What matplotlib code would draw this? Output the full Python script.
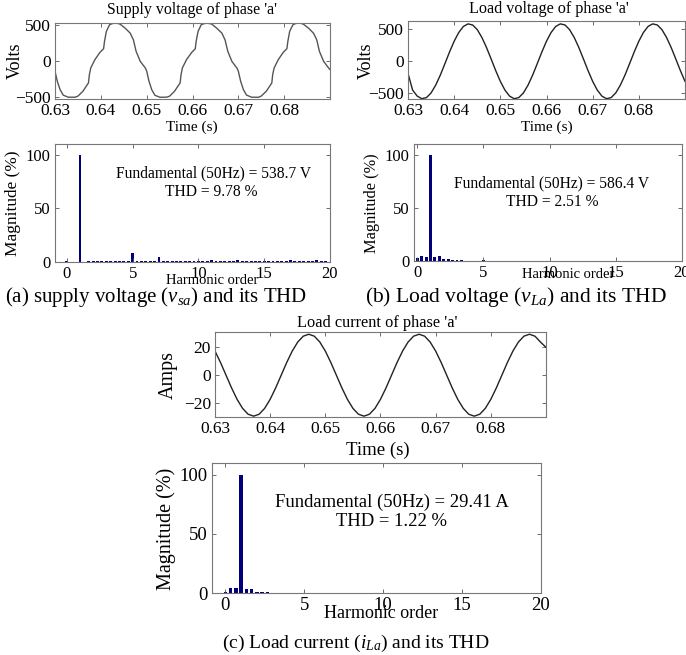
import numpy as np
import matplotlib
matplotlib.use('Agg')
import matplotlib.pyplot as plt

plt.rcParams['font.family'] = ['Liberation Serif', 'DejaVu Serif']
plt.rcParams['mathtext.fontset'] = 'custom'
plt.rcParams['mathtext.rm'] = 'Liberation Serif'
plt.rcParams['mathtext.it'] = 'Liberation Serif:italic'

# supply voltage of phase 'a'
t_sup = [0.6300, 0.6305, 0.6311, 0.6318, 0.6329, 0.6344, 0.6350, 0.6361, 0.6373, 0.6375, 0.6378, 0.6387, 0.6398,
         0.6406, 0.6408, 0.6412, 0.6419, 0.6425, 0.6431, 0.6437, 0.6442, 0.6453, 0.6464, 0.6471, 0.6477, 0.6486, 0.6497,
         0.6500, 0.6505, 0.6511, 0.6518, 0.6529, 0.6544, 0.6550, 0.6561, 0.6573, 0.6575, 0.6578, 0.6587, 0.6598,
         0.6606, 0.6608, 0.6612, 0.6619, 0.6625, 0.6631, 0.6637, 0.6642, 0.6653, 0.6664, 0.6671, 0.6677, 0.6686, 0.6697,
         0.6700, 0.6705, 0.6711, 0.6718, 0.6729, 0.6744, 0.6750, 0.6761, 0.6773, 0.6775, 0.6778, 0.6787, 0.6798,
         0.6806, 0.6808, 0.6812, 0.6819, 0.6825, 0.6831, 0.6837, 0.6842, 0.6853, 0.6864, 0.6871, 0.6877, 0.6886, 0.6897,
         0.6900]
v_sup = [-143, -282, -398, -477, -505, -505, -490, -421, -306, -190, -97, 18, 120,
         171, 273, 412, 505, 522, 528, 524, 514, 458, 389, 296, 134, -5, -97,
         -140, -280, -400, -478, -506, -504, -491, -420, -305, -192, -96, 20, 118,
         170, 275, 410, 506, 521, 527, 523, 515, 457, 390, 295, 135, -6, -99,
         -142, -281, -399, -476, -505, -506, -489, -422, -307, -189, -98, 17, 121,
         172, 272, 413, 504, 523, 528, 525, 513, 459, 388, 297, 133, -4, -98,
         -120]

# load voltage of phase 'a', 1 ms steps
t_load = [0.630 + 0.001 * i for i in range(61)]
v_load = [-190, -451, -545, -585, -568, -495, -373, -216, -37, 146,
          314, 451, 545, 585, 568, 495, 373, 216, 37, -146,
          -314, -451, -545, -585, -568, -495, -373, -216, -37, 146,
          314, 451, 545, 585, 568, 495, 373, 216, 37, -146,
          -314, -451, -545, -585, -568, -495, -373, -216, -37, 146,
          314, 451, 545, 585, 568, 495, 373, 216, 37, -146,
          -314]

# load current of phase 'a', 1 ms steps
t_cur = [0.630 + 0.001 * i for i in range(61)]
i_cur = [17.3, 9.1, 0.0, -9.1, -17.3, -23.8, -28.0, -29.4, -28.0, -23.8,
         -17.3, -9.1, 0.0, 9.1, 17.3, 23.8, 28.0, 29.4, 28.0, 23.8,
         17.3, 9.1, 0.0, -9.1, -17.3, -23.8, -28.0, -29.4, -28.0, -23.8,
         -17.3, -9.1, 0.0, 9.1, 17.3, 23.8, 28.0, 29.4, 28.0, 23.8,
         17.3, 9.1, 0.0, -9.1, -17.3, -23.8, -28.0, -29.4, -28.0, -23.8,
         -17.3, -9.1, 0.0, 9.1, 17.3, 23.8, 28.0, 29.4, 28.0, 23.8,
         20.0]

# harmonic spectra (1/3 harmonic resolution)
orders = [k / 3 for k in range(60)]
mag_sup = [0.6, 0, 0, 100, 0, 0.7, 0.7, 0.7, 0.7, 0.7, 0.7, 0.7, 0.7, 0.7, 0.7, 8.4, 0.7, 0.7, 0.7, 0.7,
           0.7, 4.7, 0.7, 0.7, 0.7, 0.7, 0.7, 0.7, 0.7, 0.7, 0.7, 0.7, 0.7, 2.0, 0.7, 0.7, 0.7, 0.7, 0.7, 1.5,
           0.7, 0.7, 0.7, 0.7, 0.7, 0.7, 0.7, 0.7, 0.7, 0.7, 0.7, 1.5, 0.7, 0.7, 0.7, 0.7, 0.7, 1.8, 0.7, 0.7]
mag_load = [2.5, 5.0, 3.4, 100, 3.4, 5.0, 2.0, 1.5, 1.2, 1.0, 1.0, 0.4, 0.4, 0.4, 0.4, 0.8, 0.4, 0.4, 0.4, 0.4,
            0.4, 0.4, 0.4, 0.4, 0.4, 0.4, 0.4, 0.4, 0.4, 0.4, 0.4, 0.4, 0.4, 0.4, 0.4, 0.4, 0.4, 0.4, 0.4, 0.4,
            0.4, 0.4, 0.4, 0.4, 0.4, 0.4, 0.4, 0.4, 0.4, 0.4, 0.4, 0.4, 0.4, 0.4, 0.4, 0.4, 0.4, 0.4, 0.4, 0.4]
mag_cur = [0.5, 4.5, 4.5, 100, 3.5, 3.5, 1.0, 1.0, 0.8, 0, 0, 0, 0, 0, 0, 0, 0, 0, 0, 0,
           0, 0, 0, 0, 0, 0, 0, 0, 0, 0, 0, 0, 0, 0, 0, 0, 0, 0, 0, 0,
           0, 0, 0, 0, 0, 0, 0, 0, 0, 0, 0, 0, 0, 0, 0, 0, 0, 0, 0, 0]

W, H = 686, 655
fig = plt.figure(figsize=(W / 100, H / 100), dpi=100)


def box(x0, y0, x1, y1):
    return [x0 / W, 1 - y1 / H, (x1 - x0) / W, (y1 - y0) / H]


def txt(x, y, s, size, **kw):
    fig.text(x / W, 1 - y / H, s, fontsize=size, ha='center', va='center', **kw)


def style(ax, size):
    ax.tick_params(direction='in', top=True, right=True, labelsize=size, length=3, width=0.6,
                   color='#555555', pad=3)
    for sp in ax.spines.values():
        sp.set_color('#777777')
        sp.set_linewidth(0.8)


def wave(rect, t, v, ylim, yticks, col, size):
    ax = fig.add_axes(box(*rect))
    ax.plot(t, v, color=col, lw=1.0)
    ax.set_xlim(0.63, 0.69)
    ax.set_ylim(*ylim)
    ax.set_xticks([0.63, 0.64, 0.65, 0.66, 0.67, 0.68])
    ax.set_xticklabels(['0.63', '0.64', '0.65', '0.66', '0.67', '0.68'])
    ax.set_yticks(yticks)
    style(ax, size)
    return ax


def spec(rect, mags, xlim, size):
    ax = fig.add_axes(box(*rect))
    ax.bar(orders, mags, width=0.22, color='#00007a')
    ax.set_xlim(*xlim)
    ax.set_ylim(0, 110)
    ax.set_xticks([0, 5, 10, 15, 20])
    ax.set_yticks([0, 50, 100])
    style(ax, size)
    return ax


# (a) supply voltage
wave((55, 23, 330, 99), t_sup, v_sup, (-530, 530), [-500, 0, 500], '#555555', 12.5)
txt(192, 10, "Supply voltage of phase 'a'", 11.4)
txt(15, 61, 'Volts', 13, rotation=90)
txt(192, 127, 'Time (s)', 11)
spec((55, 144, 330, 262), mag_sup, (-0.9, 20), 12)
txt(13, 203, 'Magnitude (%)', 12.4, rotation=90)
txt(214, 173, 'Fundamental (50Hz) = 538.7 V', 11.2)
txt(211, 192, 'THD = 9.78 %', 11.2)
txt(212, 281, 'Harmonic order', 10.5)
txt(156, 297, '(a) supply voltage ($v_{sa}$) and its THD', 15)

# (b) load voltage
wave((408, 21, 685, 99), t_load, v_load, (-590, 630), [-500, 0, 500], '#222222', 12.5)
txt(549, 9, "Load voltage of phase 'a'", 11.6)
txt(366, 61, 'Volts', 13, rotation=90)
txt(547, 127, 'Time (s)', 11)
spec((414, 144, 682, 261), mag_load, (-0.25, 20), 12)
txt(372, 203, 'Magnitude (%)', 11.8, rotation=90)
txt(552, 183, 'Fundamental (50Hz) = 586.4 V', 11.2)
txt(552, 202, 'THD = 2.51 %', 11.2)
txt(568, 275, 'Harmonic order', 10.5)
txt(516, 297, '(b) Load voltage ($v_{La}$) and its THD', 15.5)

# (c) load current
wave((215, 332, 546, 417), t_cur, i_cur, (-30, 31), [-20, 0, 20], '#222222', 12.5)
txt(377, 323, "Load current of phase 'a'", 11.8)
txt(168, 375, 'Amps', 14.5, rotation=90)
txt(378, 450, 'Time (s)', 13.5)
spec((212, 463, 541, 593), mag_cur, (-0.85, 20), 13.5)
txt(166, 529, 'Magnitude (%)', 14.5, rotation=90)
txt(392, 502, 'Fundamental (50Hz) = 29.41 A', 13.4)
txt(392, 521, 'THD = 1.22 %', 13.4)
txt(381, 613, 'Harmonic order', 13)
txt(356, 643, '(c) Load current ($i_{La}$) and its THD', 14)

fig.savefig('out.png', dpi=100)
